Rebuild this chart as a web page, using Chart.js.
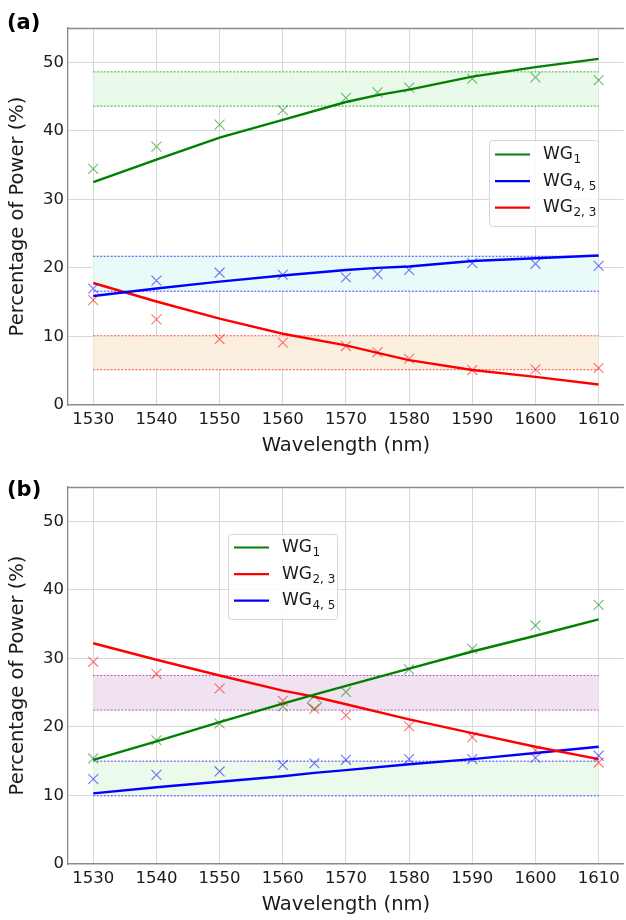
<!DOCTYPE html>
<html>
<head>
<meta charset="utf-8">
<script src="https://cdn.jsdelivr.net/npm/chart.js@4.4.1/dist/chart.umd.min.js"></script>
<style>
  html, body { margin: 0; padding: 0; background: #fff; overflow: hidden; width: 626px; height: 920px; }
  .panel { position: absolute; left: 0; width: 632px; height: 460px; }
  #pa { top: 0; }
  #pb { top: 459px; }
</style>
</head>
<body>
<div class="panel" id="pa"><canvas id="ca" width="632" height="460"></canvas></div>
<div class="panel" id="pb"><canvas id="cb" width="632" height="460"></canvas></div>
<script>
// ---------- DATA ----------
const xTicks = [1530, 1540, 1550, 1560, 1570, 1580, 1590, 1600, 1610];
const yTicks = [0, 10, 20, 30, 40, 50];
const bandX = [1530, 1610];

// Panel (a)
const wavelengthsA = [1530, 1540, 1550, 1560, 1570, 1575, 1580, 1590, 1600, 1610];
const aWG1Meas  = [34.45, 37.7, 40.9, 43.0, 44.8, 45.6, 46.3, 47.6, 47.8, 47.4];
const aWG1Fit   = [32.5, 35.8, 39.0, 41.6, 44.2, 45.2, 46.0, 47.9, 49.3, 50.5];
const aWG45Meas = [17.0, 18.15, 19.3, 19.0, 18.6, 19.1, 19.7, 20.7, 20.6, 20.3];
const aWG45Fit  = [15.9, 17.0, 18.0, 18.9, 19.7, 20.0, 20.2, 21.0, 21.4, 21.8];
const aWG23Meas = [15.3, 12.5, 9.6, 9.1, 8.6, 7.7, 6.75, 5.1, 5.2, 5.4];
const aWG23Fit  = [17.8, 15.1, 12.6, 10.4, 8.7, 7.6, 6.55, 5.1, 4.1, 3.0];
const aBandWG1  = [43.6, 48.6];
const aBandWG45 = [16.6, 21.7];
const aBandWG23 = [5.15, 10.1];

// Panel (b)
const wavelengthsB = [1530, 1540, 1550, 1560, 1565, 1570, 1580, 1590, 1600, 1610];
const bWG1Meas  = [15.4, 18.05, 20.5, 23.0, 23.5, 25.1, 28.4, 31.4, 34.8, 37.8];
const bWG1Fit   = [15.2, 17.9, 20.7, 23.4, 24.7, 26.0, 28.5, 31.0, 33.3, 35.7];
const bWG23Meas = [29.5, 27.75, 25.6, 23.8, 22.65, 21.7, 20.1, 18.5, 16.6, 14.8];
const bWG23Fit  = [32.2, 29.8, 27.5, 25.3, 24.4, 23.3, 21.1, 19.1, 17.1, 15.3];
const bWG45Meas = [12.4, 13.0, 13.5, 14.45, 14.7, 15.2, 15.3, 15.3, 15.5, 15.8];
const bWG45Fit  = [10.3, 11.2, 12.0, 12.8, 13.3, 13.7, 14.55, 15.3, 16.2, 17.1];
const bBandUpper = [22.45, 27.5];
const bBandLower = [9.95, 15.0];

const legendA = [
  { main: 'WG', sub: '1', color: '#008000' },
  { main: 'WG', sub: '4, 5', color: '#0000ff' },
  { main: 'WG', sub: '2, 3', color: '#ff0000' }
];
const legendB = [
  { main: 'WG', sub: '1', color: '#008000' },
  { main: 'WG', sub: '2, 3', color: '#ff0000' },
  { main: 'WG', sub: '4, 5', color: '#0000ff' }
];

// ---------- HELPERS ----------
const FONT = "'DejaVu Sans', sans-serif";
const pts = (xs, ys) => xs.map((x, i) => ({ x: x, y: ys[i] }));

function fitLine(xs, ys, color) {
  return { type: 'line', data: pts(xs, ys), borderColor: color, borderWidth: 2.4,
           pointRadius: 0, fill: false, tension: 0, order: 2 };
}
function markers(xs, ys, color, styles) {
  return { type: 'line', data: pts(xs, ys), showLine: false, borderColor: color,
           backgroundColor: 'rgba(0,0,0,0)', pointStyle: styles || 'crossRot',
           pointRadius: 7, pointBorderWidth: 1.1, order: 1 };
}
function bandEdge(yv, color, fillColor) {
  return { type: 'line', data: pts(bandX, [yv, yv]), borderColor: color, borderWidth: 1,
           borderDash: [2, 1.5], pointRadius: 0, tension: 0, order: 3,
           fill: fillColor ? '-1' : false, backgroundColor: fillColor || 'rgba(0,0,0,0)' };
}

const frame = {
  id: 'frame',
  afterDraw(chart, args, opts) {
    const ctx = chart.ctx, a = chart.chartArea;
    ctx.save();
    // top spine
    ctx.strokeStyle = '#8a8a8a'; ctx.lineWidth = 1.3;
    ctx.beginPath(); ctx.moveTo(a.left, a.top + 0.5); ctx.lineTo(a.right, a.top + 0.5); ctx.stroke();
    // legend
    const L = opts.legend;
    if (L) {
      const bx = a.left + L.x, by = a.top + L.y;
      ctx.fillStyle = 'rgba(255,255,255,0.85)';
      ctx.strokeStyle = '#d6d6d6'; ctx.lineWidth = 1;
      ctx.beginPath();
      if (ctx.roundRect) ctx.roundRect(bx + 0.5, by + 0.5, L.w, L.h, 3); else ctx.rect(bx + 0.5, by + 0.5, L.w, L.h);
      ctx.fill(); ctx.stroke();
      L.items.forEach((it, i) => {
        const cy = by + L.firstRow + i * L.rowGap;
        ctx.strokeStyle = it.color; ctx.lineWidth = 2.2;
        ctx.beginPath(); ctx.moveTo(bx + 6, cy); ctx.lineTo(bx + 41, cy); ctx.stroke();
        ctx.fillStyle = '#1a1a1a';
        ctx.textBaseline = 'middle'; ctx.textAlign = 'left';
        ctx.font = '17px ' + FONT;
        ctx.fillText(it.main, bx + 54, cy);
        const w = ctx.measureText(it.main).width;
        ctx.font = '12px ' + FONT;
        ctx.fillText(it.sub, bx + 54 + w + 0.5, cy + 5.5);
      });
    }
    // panel label
    if (opts.label) {
      ctx.fillStyle = '#000';
      ctx.font = 'bold 21px ' + FONT;
      ctx.textBaseline = 'middle'; ctx.textAlign = 'left';
      ctx.fillText(opts.label.text, opts.label.x, opts.label.y);
    }
    ctx.restore();
  }
};

function makeOptions(legendItems, legendPos, label) {
  return {
    responsive: false,
    animation: false,
    layout: { padding: { top: 28, right: 3, left: 0, bottom: 0 } },
    plugins: {
      legend: { display: false },
      tooltip: { enabled: false },
      frame: { legend: Object.assign({ items: legendItems }, legendPos), label: label }
    },
    scales: {
      x: {
        type: 'linear', min: 1526, max: 1614,
        afterBuildTicks: s => { s.ticks = xTicks.map(v => ({ value: v })); },
        afterFit: s => { s.height = 55; },
        grid: { color: '#d8d8d8', lineWidth: 1, drawTicks: false },
        border: { display: true, color: '#8a8a8a', width: 1.3 },
        ticks: { font: { family: FONT, size: 16.5 }, color: '#1a1a1a', padding: 5, maxRotation: 0,
                 callback: v => String(v) },
        title: { display: true, text: 'Wavelength (nm)', font: { family: FONT, size: 19.5 },
                 color: '#1a1a1a', padding: { top: 0, bottom: 2 } }
      },
      y: {
        type: 'linear', min: 0, max: 55,
        afterBuildTicks: s => { s.ticks = yTicks.map(v => ({ value: v })); },
        afterFit: s => { s.width = 68; },
        grid: { color: '#d8d8d8', lineWidth: 1, drawTicks: false },
        border: { display: true, color: '#8a8a8a', width: 1.3 },
        ticks: { font: { family: FONT, size: 16.5 }, color: '#1a1a1a', padding: 4 },
        title: { display: true, text: 'Percentage of Power (%)', font: { family: FONT, size: 19.5 },
                 color: '#1a1a1a', padding: { top: 6, bottom: 0 } }
      }
    }
  };
}

// ---------- CHART (a) ----------
new Chart(document.getElementById('ca'), {
  type: 'line',
  data: { datasets: [
    markers(wavelengthsA, aWG1Meas, 'rgba(0,128,0,0.55)'),
    markers(wavelengthsA, aWG45Meas, 'rgba(0,0,255,0.55)'),
    markers(wavelengthsA, aWG23Meas, 'rgba(255,0,0,0.55)'),
    fitLine(wavelengthsA, aWG1Fit, '#008000'),
    fitLine(wavelengthsA, aWG45Fit, '#0000ff'),
    fitLine(wavelengthsA, aWG23Fit, '#ff0000'),
    bandEdge(aBandWG1[0], 'rgba(0,150,0,0.75)'),
    bandEdge(aBandWG1[1], 'rgba(0,150,0,0.75)', '#eafaea'),
    bandEdge(aBandWG45[0], 'rgba(0,0,255,0.75)'),
    bandEdge(aBandWG45[1], 'rgba(0,0,255,0.75)', '#e9fbf8'),
    bandEdge(aBandWG23[0], 'rgba(255,0,0,0.7)'),
    bandEdge(aBandWG23[1], 'rgba(255,0,0,0.7)', '#faefdf')
  ] },
  options: makeOptions(legendA, { x: 421, y: 112, w: 109, h: 86, firstRow: 14.5, rowGap: 26.6 },
                       { text: '(a)', x: 7, y: 24 }),
  plugins: [frame]
});

// ---------- CHART (b) ----------
const bGreenStyles = wavelengthsB.map(w => (w === 1565 ? 'rectRot' : 'crossRot'));
new Chart(document.getElementById('cb'), {
  type: 'line',
  data: { datasets: [
    markers(wavelengthsB, bWG1Meas, 'rgba(0,128,0,0.55)', bGreenStyles),
    markers(wavelengthsB, bWG23Meas, 'rgba(255,0,0,0.55)'),
    markers(wavelengthsB, bWG45Meas, 'rgba(0,0,255,0.55)'),
    fitLine(wavelengthsB, bWG1Fit, '#008000'),
    fitLine(wavelengthsB, bWG23Fit, '#ff0000'),
    fitLine(wavelengthsB, bWG45Fit, '#0000ff'),
    bandEdge(bBandUpper[0], 'rgba(150,40,170,0.75)'),
    bandEdge(bBandUpper[1], 'rgba(150,40,170,0.75)', '#f0e2f0'),
    bandEdge(bBandLower[0], 'rgba(0,0,255,0.75)'),
    bandEdge(bBandLower[1], 'rgba(0,0,255,0.75)', '#ebfaeb')
  ] },
  options: makeOptions(legendB, { x: 160, y: 47, w: 109, h: 85, firstRow: 13.5, rowGap: 26.6 },
                       { text: '(b)', x: 7, y: 32 }),
  plugins: [frame]
});
</script>
</body>
</html>
